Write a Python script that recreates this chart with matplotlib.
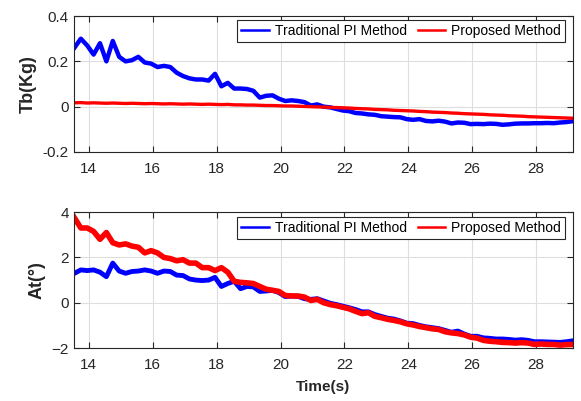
import numpy as np
import matplotlib.pyplot as plt

plt.rcParams['font.family'] = ['Liberation Sans', 'DejaVu Sans']

# sample times (s)
t = np.arange(13.55, 29.2, 0.2)

# Tb (Kg)
tb_pi = [0.26, 0.30, 0.27, 0.23, 0.28, 0.20, 0.29, 0.22, 0.20, 0.205,
         0.22, 0.195, 0.19, 0.175, 0.18, 0.175, 0.15, 0.135, 0.125, 0.12,
         0.12, 0.115, 0.145, 0.09, 0.105, 0.08, 0.08, 0.078, 0.07, 0.04,
         0.048, 0.05, 0.035, 0.025, 0.028, 0.025, 0.02, 0.005, 0.01, 0.0,
         -0.003, -0.01, -0.017, -0.02, -0.028, -0.03, -0.034, -0.036, -0.042, -0.044,
         -0.046, -0.047, -0.055, -0.058, -0.055, -0.063, -0.065, -0.062, -0.066, -0.074,
         -0.07, -0.071, -0.077, -0.076, -0.077, -0.075, -0.076, -0.08, -0.078, -0.075,
         -0.074, -0.074, -0.073, -0.073, -0.072, -0.073, -0.07, -0.068, -0.064]
tb_new = [0.017, 0.018, 0.016, 0.017, 0.016, 0.015, 0.016, 0.015, 0.014, 0.015,
          0.014, 0.013, 0.014, 0.013, 0.012, 0.013, 0.012, 0.011, 0.012, 0.011,
          0.010, 0.011, 0.010, 0.009, 0.010, 0.008, 0.008, 0.007, 0.007, 0.006,
          0.005, 0.005, 0.004, 0.003, 0.003, 0.002, 0.001, 0.000, -0.001, -0.002,
          -0.003, -0.004, -0.005, -0.006, -0.008, -0.009, -0.010, -0.012, -0.013, -0.014,
          -0.016, -0.017, -0.018, -0.019, -0.021, -0.022, -0.024, -0.025, -0.026, -0.028,
          -0.029, -0.031, -0.032, -0.033, -0.034, -0.036, -0.037, -0.038, -0.040, -0.041,
          -0.042, -0.044, -0.045, -0.046, -0.047, -0.048, -0.049, -0.050, -0.051]

# At (deg)
at_pi = [1.3, 1.45, 1.42, 1.45, 1.35, 1.15, 1.75, 1.4, 1.3, 1.38,
         1.4, 1.45, 1.4, 1.3, 1.4, 1.38, 1.22, 1.2, 1.05, 1.0,
         0.98, 1.0, 1.12, 0.72, 0.85, 0.95, 0.62, 0.72, 0.7, 0.5,
         0.52, 0.55, 0.45, 0.27, 0.3, 0.28, 0.18, 0.15, 0.18, 0.08,
         -0.02, -0.08, -0.15, -0.22, -0.3, -0.4, -0.4, -0.52, -0.6, -0.68,
         -0.72, -0.8, -0.9, -0.92, -1.0, -1.06, -1.1, -1.14, -1.22, -1.3,
         -1.25, -1.38, -1.48, -1.48, -1.55, -1.57, -1.6, -1.6, -1.62, -1.65,
         -1.63, -1.66, -1.72, -1.72, -1.73, -1.74, -1.75, -1.72, -1.68]
at_new = [3.75, 3.3, 3.3, 3.15, 2.8, 3.1, 2.65, 2.55, 2.6, 2.5,
          2.45, 2.2, 2.3, 2.2, 2.0, 1.95, 1.85, 1.9, 1.75, 1.75,
          1.55, 1.55, 1.42, 1.55, 1.35, 0.95, 0.9, 0.88, 0.85, 0.72,
          0.6, 0.55, 0.5, 0.32, 0.3, 0.3, 0.25, 0.1, 0.15, 0.0,
          -0.08, -0.13, -0.2, -0.27, -0.38, -0.48, -0.44, -0.6, -0.66, -0.73,
          -0.78, -0.84, -0.93, -0.98, -1.05, -1.1, -1.15, -1.18, -1.28, -1.33,
          -1.36, -1.42, -1.52, -1.56, -1.66, -1.7, -1.72, -1.75, -1.76, -1.78,
          -1.76, -1.78, -1.84, -1.82, -1.84, -1.84, -1.87, -1.85, -1.84]

labels = ['Traditional PI Method', 'Proposed Method']
xticks = [14, 16, 18, 20, 22, 24, 26, 28]

fig = plt.figure(figsize=(5.81, 4.01), dpi=100)
ax1 = fig.add_axes([0.127, 0.621, 0.859, 0.339])
ax2 = fig.add_axes([0.127, 0.132, 0.859, 0.339])

ax1.plot(t, tb_pi, color='#0000ff', lw=3.2, label=labels[0])
ax1.plot(t, tb_new, color='#ff0000', lw=2.4, label=labels[1])
ax2.plot(t, at_pi, color='#0000ff', lw=3.5, label=labels[0])
ax2.plot(t, at_new, color='#ff0000', lw=4.0, label=labels[1])

ax1.set_ylim(-0.2, 0.4)
ax1.set_yticks([-0.2, 0, 0.2, 0.4])
ax1.set_yticklabels(['-0.2', '0', '0.2', '0.4'])
ax1.set_ylabel('Tb(Kg)', fontsize=13, fontweight='bold', color='#262626')
ax2.set_ylim(-2, 4)
ax2.set_yticks([-2, 0, 2, 4])
ax2.set_ylabel('At(°)', fontsize=13, fontweight='bold', color='#262626')
ax2.set_xlabel('Time(s)', fontsize=11, fontweight='bold', color='#262626',
               labelpad=6)

for ax, top in ((ax1, 0.971), (ax2, 0.963)):
    ax.set_xlim(13.53, 29.15)
    ax.set_xticks(xticks)
    ax.grid(True, color='#dedede', lw=0.8)
    ax.set_axisbelow(True)
    ax.tick_params(direction='in', top=True, right=True, length=4,
                   labelsize=11, colors='#262626')
    ax.tick_params(axis='x', pad=7)
    for s in ax.spines.values():
        s.set_color('#262626')
        s.set_linewidth(0.8)
    leg = ax.legend(loc='upper right', bbox_to_anchor=(0.984, top), ncol=2,
                    fontsize=10, frameon=True, fancybox=False, framealpha=1,
                    edgecolor='#262626', borderaxespad=0, handlelength=2.0,
                    columnspacing=0.8, handletextpad=0.4, borderpad=0.3)
    leg.get_frame().set_linewidth(0.8)
    for h in leg.get_lines():
        h.set_linewidth(1.8)

fig.savefig('out.png', dpi=100)
